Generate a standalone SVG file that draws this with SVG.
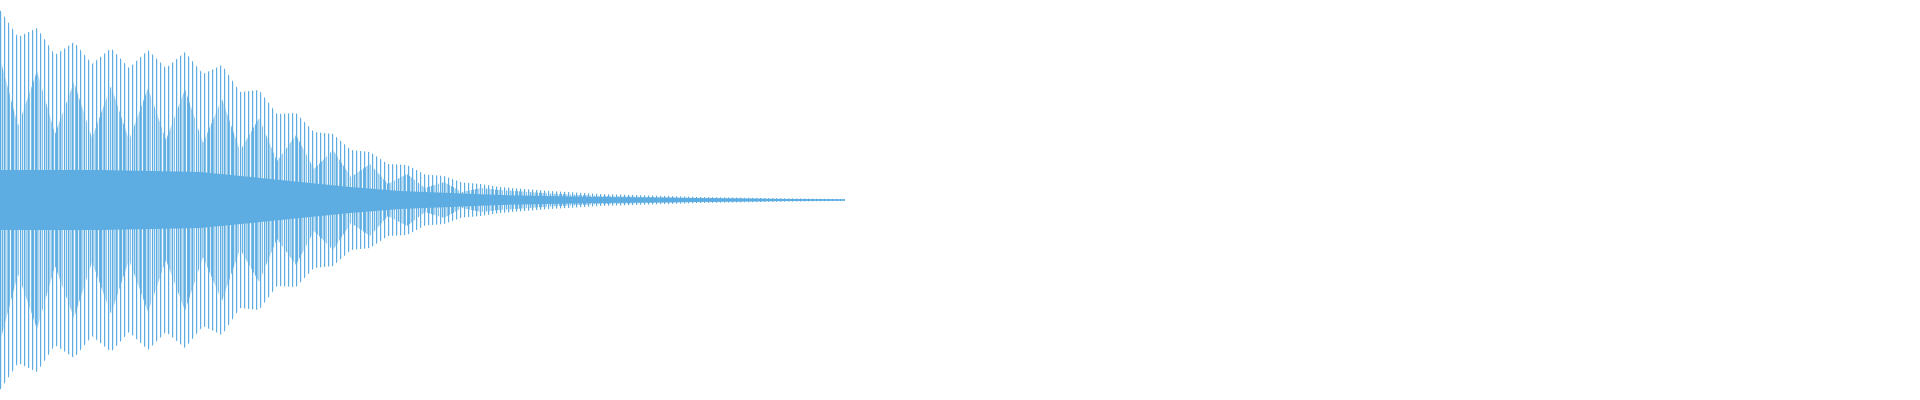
<svg xmlns="http://www.w3.org/2000/svg" width="1920" height="400" viewBox="0 0 1920 400">
<defs>
<pattern id="p4" patternUnits="userSpaceOnUse" width="4" height="400"><rect x="0" y="0" width="1.2" height="400" fill="#5DADE2"/></pattern>
<pattern id="p2" patternUnits="userSpaceOnUse" width="2.2" height="400"><rect x="0" y="0" width="1.1" height="400" fill="#5DADE2"/></pattern>
</defs>
<rect width="1920" height="400" fill="#fff"/>
<g id="wave">
<polygon fill="url(#p4)" points="0,10 18,37 37,28 55,55 74,42 92,64 111,48 129,68 148,50 166,68 185,52 203,74 222,65 240,92 259,90 277,114 296,113 314,132 333,134 351,150 370,152 388,164 407,165 425,174.5 444,176 462,182.4 481,184 500,187 550,191 600,194 700,197 800,198.5 845,199 845,201 800,201.5 700,203 600,206 550,209 500,213 481,216 462,217.6 444,224 425,225.5 407,235 388,236 370,248 351,250 333,266 314,268 296,287 277,286 259,310 240,308 222,335 203,326 185,348 166,332 148,350 129,332 111,352 92,336 74,358 55,345 37,372 18,363 0,390"/>
<polygon fill="url(#p2)" points="0,58 18,126 37,71 55,134 74,82 92,138 111,86 129,140 148,88 166,140 185,89 203,143 222,99 240,151 259,118 277,161 296,135 314,169 333,150 351,177 370,164 388,184 407,174 425,188 444,182 462,192 481,188 500,190 550,193.5 600,196 700,198 845,199.5 845,200.5 700,202 600,204 550,206.5 500,210 481,212 462,208 444,218 425,212 407,226 388,216 370,236 351,223 333,250 314,231 296,265 277,239 259,282 240,249 222,301 203,257 185,311 166,260 148,312 129,260 111,314 92,262 74,318 55,266 37,329 18,274 0,342"/>
<polygon fill="#5DADE2" points="0,170 100,170 200,172 260,178 300,182 350,187 400,191 500,195 600,197 845,199.5 845,200.5 600,203 500,205 400,209 350,213 300,218 260,222 200,228 100,230 0,230"/>
<line x1="0" y1="200" x2="845" y2="200" stroke="#5DADE2" stroke-width="1"/>
</g>
</svg>
